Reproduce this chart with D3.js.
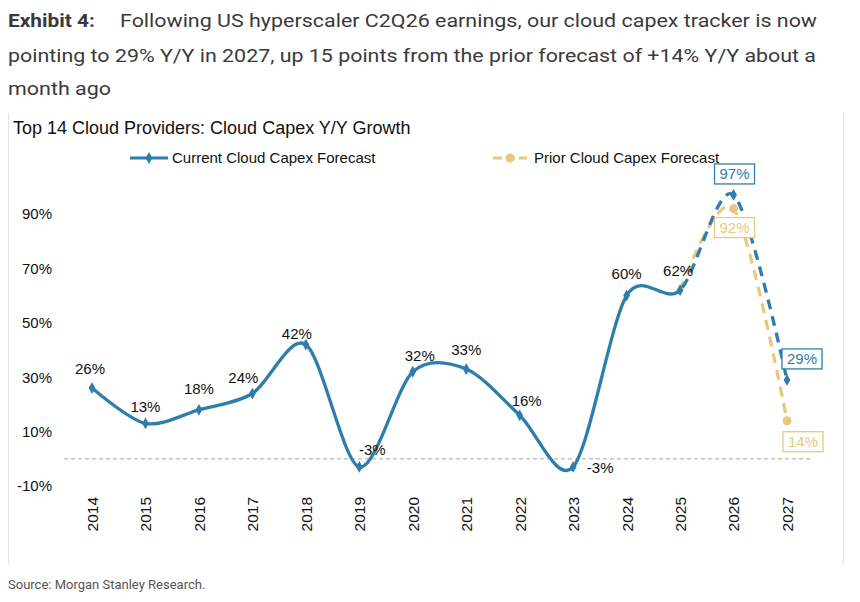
<!DOCTYPE html>
<html>
<head>
<meta charset="utf-8">
<script src="https://cdn.jsdelivr.net/npm/d3@7"></script>
<style>
	body { margin: 0; background: #fff; }
	svg { display: block; }
</style>
</head>
<body>
<div id="chart"></div>
<script>
// chart values
let years = [2014, 2015, 2016, 2017, 2018, 2019, 2020, 2021, 2022, 2023, 2024, 2025, 2026, 2027];
let current = [26, 13, 18, 24, 42, -3, 32, 33, 16, -3, 60, 62, 97, 29];
let priorYears = [2025, 2026, 2027];
let prior = [62, 92, 14];
let yTicks = [-10, 10, 30, 50, 70, 90];
let lastActual = 2025;

// label offsets from the point (pixels)
let currentLabelOffset = [[-2, -19], [0, -17], [0, -21], [-9, -16], [-9, -11], [13, -17], [7, -16],
	[0, -19], [7, -15], [27, 1], [0, -22], [-2, -20], [1, -21], [15, -21]];
let priorLabelOffset = [null, [1, 19], [16, 21]];

let W = 860, H = 602;
let blue = "#2e7dab", tan = "#e8c87c";

let svg = d3.select("#chart").append("svg")
	.attr("width", W)
	.attr("height", H);

// HEADER
let header = svg.append("g")
	.style("font-family", "Roboto, sans-serif")
	.style("font-size", "19px")
	.attr("fill", "#3a3a3a");

header.append("text").attr("x", 8).attr("y", 27)
	.style("font-weight", "bold")
	.attr("textLength", 87).attr("lengthAdjust", "spacingAndGlyphs")
	.text("Exhibit 4:");
header.append("text").attr("x", 120).attr("y", 27)
	.attr("textLength", 697).attr("lengthAdjust", "spacingAndGlyphs")
	.text("Following US hyperscaler C2Q26 earnings, our cloud capex tracker is now");
header.append("text").attr("x", 8).attr("y", 62)
	.attr("textLength", 808).attr("lengthAdjust", "spacingAndGlyphs")
	.text("pointing to 29% Y/Y in 2027, up 15 points from the prior forecast of +14% Y/Y about a");
header.append("text").attr("x", 8).attr("y", 95)
	.attr("textLength", 103).attr("lengthAdjust", "spacingAndGlyphs")
	.text("month ago");

// chart frame lines (left/right)
svg.append("line").attr("x1", 8.5).attr("x2", 8.5).attr("y1", 113).attr("y2", 564)
	.attr("stroke", "#e4e4e4");
svg.append("line").attr("x1", 843.5).attr("x2", 843.5).attr("y1", 112).attr("y2", 564)
	.attr("stroke", "#e4e4e4");

svg.append("text")
	.attr("x", 13).attr("y", 134)
	.style("font-family", "'Liberation Sans', Arial, sans-serif")
	.style("font-size", "18px")
	.attr("fill", "#111")
	.text("Top 14 Cloud Providers: Cloud Capex Y/Y Growth");

// SCALES
let xScale = d3.scalePoint()
	.domain(years)
	.range([92, 787]);

let yScale = d3.scaleLinear()
	.domain([-10, 90])
	.range([486, 214]);

let font = "'Liberation Sans', Arial, sans-serif";

// y axis (labels only)
let yAxis = d3.axisLeft(yScale)
	.tickValues(yTicks)
	.tickSize(0)
	.tickPadding(0)
	.tickFormat(d => d + "%");

let yg = svg.append("g")
	.attr("transform", "translate(52,0)")
	.call(yAxis);
yg.select(".domain").remove();
yg.selectAll("text")
	.style("font-family", font)
	.style("font-size", "15px")
	.attr("fill", "#111");

// x axis (rotated labels only)
let xAxis = d3.axisBottom(xScale).tickSize(0);
let xg = svg.append("g")
	.attr("transform", "translate(0,497)")
	.call(xAxis);
xg.select(".domain").remove();
xg.selectAll("text")
	.attr("y", 0)
	.attr("dy", "0.35em")
	.attr("transform", "rotate(-90)")
	.style("text-anchor", "end")
	.style("font-family", font)
	.style("font-size", "15.5px")
	.attr("fill", "#111");

// zero line
svg.append("line")
	.attr("x1", 64).attr("x2", 812)
	.attr("y1", yScale(0)).attr("y2", yScale(0))
	.attr("stroke", "#c4c4c4")
	.attr("stroke-width", 1.5)
	.attr("stroke-dasharray", "4,3");

// clip regions: actual vs forecast
let defs = svg.append("defs");
defs.append("clipPath").attr("id", "clip-actual")
	.append("rect").attr("x", 0).attr("y", 0)
	.attr("width", xScale(lastActual)).attr("height", H);
defs.append("clipPath").attr("id", "clip-forecast")
	.append("rect").attr("x", xScale(lastActual)).attr("y", 0)
	.attr("width", W - xScale(lastActual)).attr("height", H);

let line = d3.line()
	.x(d => xScale(d[0]))
	.y(d => yScale(d[1]))
	.curve(d3.curveCardinal.tension(0.1));

let currentPts = years.map((y, i) => [y, current[i]]);
let priorPts = priorYears.map((y, i) => [y, prior[i]]);

// prior forecast (dashed tan)
svg.append("path")
	.datum(priorPts)
	.attr("d", line)
	.attr("fill", "none")
	.attr("stroke", tan)
	.attr("stroke-width", 3.2)
	.attr("stroke-dasharray", "10,7");

svg.selectAll(".prior-dot")
	.data(priorPts.slice(1))
	.enter()
	.append("circle")
	.attr("class", "prior-dot")
	.attr("cx", d => xScale(d[0]))
	.attr("cy", d => yScale(d[1]))
	.attr("r", 4.5)
	.attr("fill", tan);

// current: solid up to last actual, dashed afterwards
svg.append("path")
	.datum(currentPts)
	.attr("d", line)
	.attr("clip-path", "url(#clip-actual)")
	.attr("fill", "none")
	.attr("stroke", blue)
	.attr("stroke-width", 3.3);

svg.append("path")
	.datum(currentPts)
	.attr("d", line)
	.attr("clip-path", "url(#clip-forecast)")
	.attr("fill", "none")
	.attr("stroke", blue)
	.attr("stroke-width", 3.3)
	.attr("stroke-dasharray", "10,7");

let diamond = d3.symbol().type(d3.symbolDiamond).size(40);
svg.selectAll(".cur-dot")
	.data(currentPts)
	.enter()
	.append("path")
	.attr("class", "cur-dot")
	.attr("d", diamond)
	.attr("transform", d => "translate(" + xScale(d[0]) + "," + yScale(d[1]) + ")")
	.attr("fill", blue);

// data labels
let boxedFrom = 2026;
currentPts.forEach((d, i) => {
	let cx = xScale(d[0]) + currentLabelOffset[i][0];
	let cy = yScale(d[1]) + currentLabelOffset[i][1];
	if (d[0] >= boxedFrom) {
		svg.append("rect")
			.attr("x", cx - 20).attr("y", cy - 10)
			.attr("width", 40).attr("height", 20)
			.attr("fill", "#fff")
			.attr("stroke", blue)
			.attr("stroke-width", 1.3);
	}
	svg.append("text")
		.attr("x", cx).attr("y", cy)
		.attr("dy", "0.36em")
		.attr("text-anchor", "middle")
		.style("font-family", font)
		.style("font-size", "15px")
		.attr("fill", d[0] >= boxedFrom ? blue : "#111")
		.text(d[1] + "%");
});

priorPts.forEach((d, i) => {
	if (!priorLabelOffset[i]) return;
	let cx = xScale(d[0]) + priorLabelOffset[i][0];
	let cy = yScale(d[1]) + priorLabelOffset[i][1];
	svg.append("rect")
		.attr("x", cx - 20).attr("y", cy - 10)
		.attr("width", 40).attr("height", 20)
		.attr("fill", "#fff")
		.attr("stroke", tan)
		.attr("stroke-width", 1.3);
	svg.append("text")
		.attr("x", cx).attr("y", cy)
		.attr("dy", "0.36em")
		.attr("text-anchor", "middle")
		.style("font-family", font)
		.style("font-size", "15px")
		.attr("fill", tan)
		.text(d[1] + "%");
});

// LEGEND
let legend = svg.append("g")
	.style("font-family", font)
	.style("font-size", "15px");

legend.append("line")
	.attr("x1", 130).attr("x2", 168).attr("y1", 158).attr("y2", 158)
	.attr("stroke", blue).attr("stroke-width", 3.2);
legend.append("path")
	.attr("d", diamond)
	.attr("transform", "translate(149,158)")
	.attr("fill", blue);
legend.append("text")
	.attr("x", 172).attr("y", 158).attr("dy", "0.35em")
	.attr("fill", "#111")
	.text("Current Cloud Capex Forecast");

legend.append("line")
	.attr("x1", 493).attr("x2", 527).attr("y1", 158).attr("y2", 158)
	.attr("stroke", tan).attr("stroke-width", 3.2)
	.attr("stroke-dasharray", "9,4");
legend.append("circle")
	.attr("cx", 510).attr("cy", 158).attr("r", 4.5)
	.attr("fill", tan);
legend.append("text")
	.attr("x", 534).attr("y", 158).attr("dy", "0.35em")
	.attr("fill", "#111")
	.text("Prior Cloud Capex Forecast");

// SOURCE
svg.append("text")
	.attr("x", 8).attr("y", 589)
	.style("font-family", "Roboto, sans-serif")
	.style("font-size", "13px")
	.attr("fill", "#555")
	.text("Source: Morgan Stanley Research.");
</script>
</body>
</html>
